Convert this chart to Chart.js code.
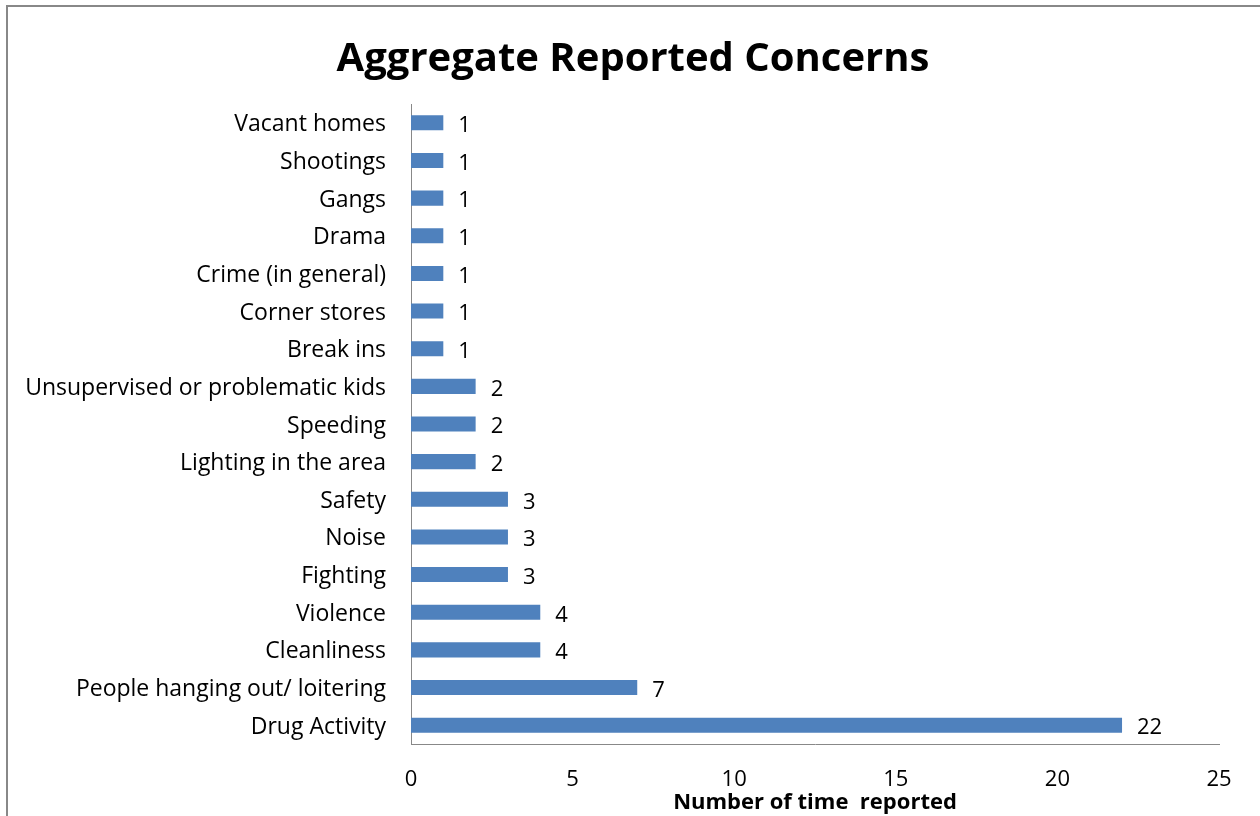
<!DOCTYPE html>
<html>
<head>
<meta charset="utf-8">
<script src="https://cdn.jsdelivr.net/npm/chart.js@4.4.0/dist/chart.umd.min.js"></script>
<style>
  html, body { margin: 0; padding: 0; background: #fff; }
  #wrap { width: 1260px; height: 816px; position: relative; }
</style>
</head>
<body>
<div id="wrap"><canvas id="myChart" width="1260" height="816"></canvas></div>
<script>
'use strict';
/*------Chart data------*/
let concerns = [
  'Vacant homes', 'Shootings', 'Gangs', 'Drama', 'Crime (in general)',
  'Corner stores', 'Break ins', 'Unsupervised or problematic kids', 'Speeding',
  'Lighting in the area', 'Safety', 'Noise', 'Fighting', 'Violence',
  'Cleanliness', 'People hanging out/ loitering', 'Drug Activity'
];
let timesReported = [1, 1, 1, 1, 1, 1, 1, 2, 2, 2, 3, 3, 3, 4, 4, 7, 22];
let xTicks = [0, 5, 10, 15, 20, 25];
let chartTitle = 'Aggregate Reported Concerns';

let labelFont = '"Open Sans", Lato, sans-serif';

// frame line round the figure + title (centred on the whole figure)
const framePlugin = {
  id: 'frame',
  beforeDraw(chart) {
    let ctx = chart.ctx;
    ctx.save();
    ctx.strokeStyle = '#888888';
    ctx.lineWidth = 2;
    ctx.beginPath();
    ctx.moveTo(7, 816);
    ctx.lineTo(7, 6);
    ctx.lineTo(1260, 6);
    ctx.stroke();
    ctx.fillStyle = '#000';
    ctx.font = 'bold 40px ' + labelFont;
    ctx.textAlign = 'center';
    ctx.textBaseline = 'middle';
    ctx.fillText(chartTitle, 633, 60);
    ctx.restore();
  }
};

// numbers next to the bars
const valueLabels = {
  id: 'valueLabels',
  afterDatasetsDraw(chart) {
    let ctx = chart.ctx;
    let meta = chart.getDatasetMeta(0);
    ctx.save();
    ctx.fillStyle = '#000';
    ctx.font = '22px ' + labelFont;
    ctx.textAlign = 'left';
    ctx.textBaseline = 'middle';
    meta.data.forEach(function (bar, i) {
      ctx.fillText(String(timesReported[i]), bar.x + 15, bar.y + 3);
    });
    ctx.restore();
  }
};

const config = {
  type: 'bar',
  data: {
    labels: concerns,
    datasets: [{
      data: timesReported,
      backgroundColor: '#4F81BD',
      borderWidth: 0,
      barPercentage: 0.4,
      categoryPercentage: 1.0
    }]
  },
  options: {
    indexAxis: 'y',
    responsive: false,
    animation: false,
    layout: { padding: { left: 0, right: 41, top: 104, bottom: 0 } },
    plugins: {
      legend: { display: false },
      tooltip: { enabled: false },
      title: { display: false }
    },
    scales: {
      x: {
        min: 0,
        max: 25,
        afterBuildTicks(scale) {
          scale.ticks = xTicks.map(function (v) { return { value: v }; });
        },
        afterFit(scale) { scale.height = 72; },
        grid: { display: false, drawTicks: false },
        border: { color: '#888888', width: 1 },
        ticks: {
          color: '#000',
          padding: 23,
          font: { family: labelFont, size: 22 }
        },
        title: {
          display: true,
          text: 'Number of time  reported',
          color: '#000',
          font: { family: labelFont, size: 22, weight: 'bold' },
          padding: { top: 0, bottom: 0 }
        }
      },
      y: {
        afterFit(scale) { scale.width = 411; },
        grid: { display: false, drawTicks: false },
        border: { color: '#888888', width: 1 },
        ticks: {
          color: '#000',
          padding: 25,
          labelOffset: 2,
          autoSkip: false,
          font: { family: labelFont, size: 23 }
        }
      }
    }
  },
  plugins: [framePlugin, valueLabels]
};

const myChart = new Chart(document.getElementById('myChart'), config);
</script>
</body>
</html>
